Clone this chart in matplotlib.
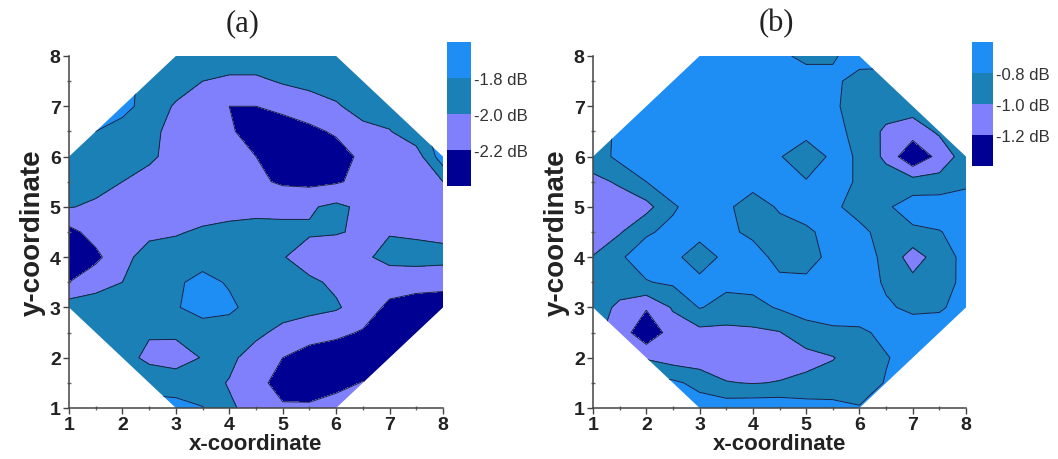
import numpy as np
import matplotlib.pyplot as plt
from matplotlib.patches import Polygon
from matplotlib.ticker import MultipleLocator

# sample positions of the measured grid (rows run from y=8 down to y=1)
grid_x = [1.0, 1.5, 2.0, 2.5, 3.0, 3.5, 4.0, 4.5, 5.0, 5.5, 6.0, 6.5, 7.0, 7.5, 8.0]
grid_y = [8.0, 7.5, 7.0, 6.5, 6.0, 5.5, 5.0, 4.5, 4.0, 3.5, 3.0, 2.5, 2.0, 1.5, 1.0]

# panel (a), values in dB
loss_a = [
    [-1.80, -1.80, -1.82, -1.85, -1.88, -1.88, -1.88, -1.88, -1.88, -1.88, -1.88, -1.86, -1.85, -1.82, -1.80],
    [-1.75, -1.75, -1.76, -1.84, -1.92, -2.00, -2.04, -2.04, -1.98, -1.95, -1.92, -1.90, -1.88, -1.85, -1.80],
    [-1.75, -1.72, -1.72, -1.90, -2.02, -2.10, -2.20, -2.20, -2.15, -2.08, -2.02, -1.93, -1.90, -1.88, -1.85],
    [-1.80, -1.80, -1.90, -1.96, -2.05, -2.12, -2.17, -2.30, -2.30, -2.25, -2.17, -2.05, -2.01, -1.86, -1.72],
    [-1.85, -1.90, -1.92, -1.97, -2.06, -2.10, -2.14, -2.20, -2.35, -2.35, -2.30, -2.15, -2.07, -2.10, -1.68],
    [-1.90, -1.94, -2.00, -2.06, -2.10, -2.12, -2.13, -2.16, -2.23, -2.25, -2.22, -2.15, -2.10, -2.05, -2.00],
    [-1.99, -2.03, -2.06, -2.10, -2.10, -2.10, -2.08, -2.06, -2.04, -2.02, -1.96, -2.04, -2.08, -2.10, -2.08],
    [-2.26, -2.12, -2.08, -2.04, -2.02, -1.97, -1.94, -1.93, -1.96, -1.98, -1.99, -2.02, -2.01, -2.03, -2.05],
    [-2.32, -2.25, -2.05, -1.93, -1.90, -1.88, -1.88, -1.92, -1.99, -2.08, -2.08, -2.03, -1.95, -1.93, -1.94],
    [-2.20, -2.07, -2.00, -1.90, -1.83, -1.74, -1.82, -1.88, -1.92, -1.97, -2.03, -2.08, -2.10, -2.12, -2.13],
    [-1.90, -1.91, -1.92, -1.90, -1.82, -1.70, -1.76, -1.88, -1.92, -1.95, -1.98, -2.08, -2.25, -2.30, -2.32],
    [-1.88, -1.92, -1.96, -1.98, -1.97, -1.93, -1.90, -1.96, -2.05, -2.10, -2.15, -2.22, -2.30, -2.32, -2.30],
    [-1.90, -1.90, -1.92, -2.05, -2.08, -1.99, -1.96, -2.08, -2.20, -2.30, -2.33, -2.33, -2.30, -2.28, -2.25],
    [-1.85, -1.85, -1.87, -1.86, -1.90, -1.94, -2.01, -2.15, -2.26, -2.30, -2.27, -2.19, -2.20, -2.20, -2.20],
    [-1.80, -1.80, -1.78, -1.74, -1.73, -1.79, -1.98, -2.05, -2.18, -2.17, -2.10, -2.10, -2.10, -2.10, -2.10],
]

# panel (b)
loss_b = [
    [-0.70, -0.70, -0.70, -0.70, -0.70, -0.70, -0.70, -0.75, -0.86, -0.82, -0.72, -0.72, -0.72, -0.72, -0.72],
    [-0.72, -0.70, -0.70, -0.70, -0.68, -0.66, -0.66, -0.67, -0.68, -0.76, -0.87, -0.88, -0.85, -0.80, -0.80],
    [-0.75, -0.72, -0.68, -0.66, -0.65, -0.65, -0.66, -0.67, -0.70, -0.77, -0.88, -0.90, -0.92, -0.88, -0.85],
    [-0.85, -0.78, -0.70, -0.66, -0.64, -0.64, -0.65, -0.72, -0.70, -0.74, -0.86, -1.04, -1.10, -0.97, -0.88],
    [-0.92, -0.74, -0.70, -0.66, -0.64, -0.66, -0.72, -0.78, -0.98, -0.74, -0.82, -1.05, -1.38, -1.13, -0.90],
    [-1.04, -0.98, -0.80, -0.70, -0.66, -0.68, -0.74, -0.76, -0.78, -0.74, -0.82, -0.88, -0.92, -0.93, -0.84],
    [-1.10, -1.08, -1.07, -0.82, -0.72, -0.77, -0.88, -0.78, -0.72, -0.77, -0.86, -0.83, -0.70, -0.68, -0.70],
    [-1.14, -1.02, -0.82, -0.76, -0.72, -0.76, -0.84, -0.86, -0.83, -0.74, -0.76, -0.86, -0.84, -0.81, -0.72],
    [-0.99, -0.82, -0.72, -0.74, -0.92, -0.74, -0.72, -0.86, -0.88, -0.74, -0.72, -0.84, -1.10, -0.90, -0.74],
    [-0.95, -0.88, -0.81, -0.77, -0.74, -0.76, -0.74, -0.76, -0.76, -0.72, -0.72, -0.82, -0.94, -0.88, -0.75],
    [-0.88, -1.05, -1.18, -0.98, -0.79, -0.86, -0.86, -0.78, -0.74, -0.72, -0.70, -0.78, -0.83, -0.82, -0.74],
    [-0.95, -1.08, -1.36, -1.10, -1.06, -1.06, -1.04, -1.01, -0.86, -0.83, -0.83, -0.76, -0.72, -0.72, -0.72],
    [-0.95, -1.00, -1.02, -1.10, -1.12, -1.12, -1.12, -1.10, -1.08, -1.01, -0.90, -0.81, -0.74, -0.72, -0.72],
    [-0.72, -0.72, -0.74, -0.76, -0.86, -0.99, -1.01, -0.99, -0.94, -0.92, -0.88, -0.79, -0.72, -0.72, -0.72],
    [-0.70, -0.70, -0.70, -0.70, -0.70, -0.68, -0.66, -0.66, -0.72, -0.74, -0.79, -0.76, -0.72, -0.72, -0.72],
]

levels_a = [-2.4, -2.2, -2.0, -1.8, -1.6]
levels_b = [-1.4, -1.2, -1.0, -0.8, -0.6]
cbar_ticks_a = [-2.2, -2.0, -1.8]
cbar_ticks_b = [-1.2, -1.0, -0.8]
titles = ["(a)", "(b)"]

# measured area outline
octagon = [(1, 3), (3, 1), (6, 1), (8, 3), (8, 6), (6, 8), (3, 8), (1, 6)]

fill_colors = ["#000092", "#8080fc", "#1a80b6", "#1e8ef4"]

plt.rcParams["font.family"] = ["Liberation Sans", "DejaVu Sans"]

fig = plt.figure(figsize=(10.58, 4.6), dpi=100)

W, H = 1058.0, 460.0


def px_axes(x0, y0, x1, y1):
    return fig.add_axes([x0 / W, 1 - y1 / H, (x1 - x0) / W, (y1 - y0) / H])


panels = [
    (loss_a, levels_a, cbar_ticks_a, (69, 57, 443, 409), (447, 43, 471, 187), 243),
    (loss_b, levels_b, cbar_ticks_b, (593, 57, 966, 409), (972, 43, 993, 167), 776),
]

X, Y = np.meshgrid(grid_x, grid_y)

for i, (z, levels, cticks, box, cbox, tx) in enumerate(panels):
    ax = px_axes(*box)
    Z = np.array(z)

    clip = Polygon(octagon, closed=True, facecolor="none", edgecolor="none")
    ax.add_patch(clip)

    cs = ax.contourf(X, Y, Z, levels=levels, colors=fill_colors)
    cs.set_clip_path(clip)
    cl = ax.contour(X, Y, Z, levels=levels[1:-1], colors="#1c2240",
                    linewidths=0.7, linestyles="solid")
    cl.set_clip_path(clip)

    ax.set_xlim(1, 8)
    ax.set_ylim(1, 8)
    for side in ["top", "right"]:
        ax.spines[side].set_visible(False)
    for side in ["left", "bottom"]:
        ax.spines[side].set_color("#444444")
        ax.spines[side].set_linewidth(1.1)

    ax.xaxis.set_major_locator(MultipleLocator(1))
    ax.yaxis.set_major_locator(MultipleLocator(1))
    ax.xaxis.set_minor_locator(MultipleLocator(0.5))
    ax.yaxis.set_minor_locator(MultipleLocator(0.5))
    ax.tick_params(which="major", direction="out", length=4, width=1, color="#444444",
                   labelsize=14, pad=2)
    ax.tick_params(which="minor", direction="inout", length=3, width=1, color="#666666")
    for lab in ax.get_xticklabels() + ax.get_yticklabels():
        lab.set_fontweight("bold")
        lab.set_color("#222222")

    ax.set_xlabel("x-coordinate", fontsize=16, fontweight="bold", labelpad=0, color="#222222")
    ax.set_ylabel("y-coordinate", fontsize=20, fontweight="bold", labelpad=3, color="#222222")

    cax = px_axes(*cbox)
    cb = fig.colorbar(cs, cax=cax, ticks=cticks)
    cb.outline.set_visible(False)
    cb.ax.set_yticklabels([f"{t:.1f} dB" for t in cticks])
    cb.ax.tick_params(length=0, labelsize=12, pad=2, colors="#333333")

    fig.text(tx / W, 1 - 24 / H, titles[i], ha="center", va="center",
             fontsize=22, family="Liberation Serif", color="#222222")

fig.savefig("out.png", dpi=100)
